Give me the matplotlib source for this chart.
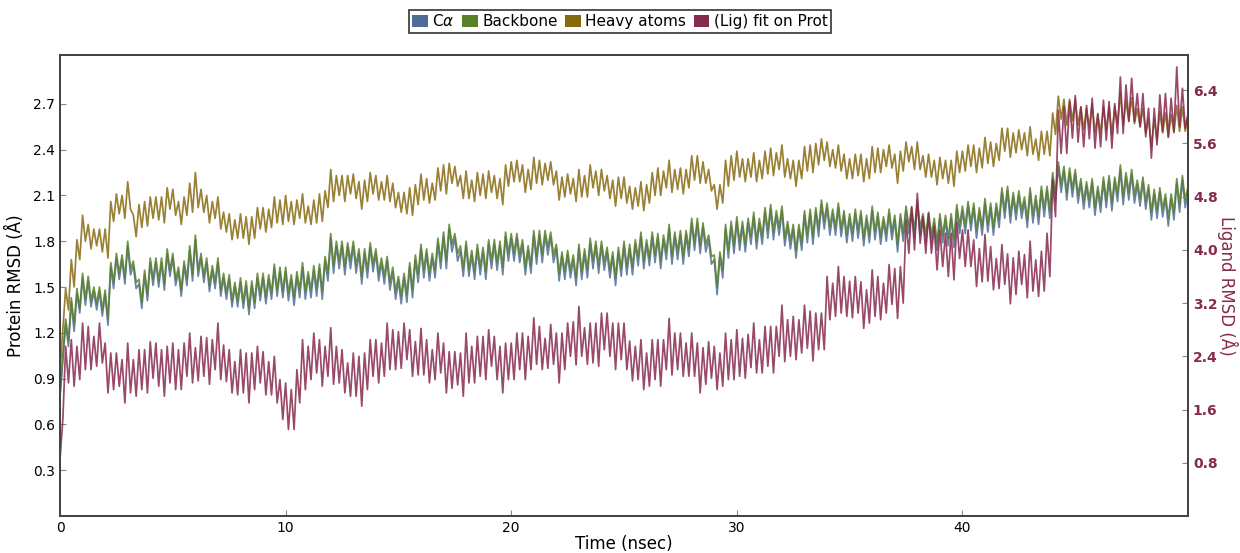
import numpy as np
import matplotlib
matplotlib.use("Agg")
import matplotlib.pyplot as plt
from matplotlib.patches import Patch

# --- values, one sample every 0.125 ns (0..50 ns) ---
time_ns = np.arange(401) * 0.125

ca_rmsd = [
    # 0-10 ns
    0.78, 1.02, 1.26, 1.11, 1.40, 1.21, 1.46, 1.33, 1.56, 1.38, 1.54, 1.37, 1.47, 1.35, 1.47, 1.31, 1.45, 1.25, 1.63, 1.49,
    1.69, 1.55, 1.68, 1.52, 1.77, 1.58, 1.64, 1.49, 1.52, 1.36, 1.58, 1.41, 1.66, 1.51, 1.66, 1.50, 1.66, 1.48, 1.72, 1.57,
    1.69, 1.51, 1.60, 1.44, 1.64, 1.51, 1.74, 1.54, 1.81, 1.57, 1.69, 1.53, 1.66, 1.47, 1.61, 1.49, 1.66, 1.44, 1.56, 1.42,
    1.55, 1.37, 1.50, 1.37, 1.53, 1.36, 1.51, 1.32, 1.51, 1.36, 1.56, 1.41, 1.56, 1.39, 1.55, 1.42, 1.62, 1.44, 1.60, 1.43,
    # 10-20 ns
    1.60, 1.41, 1.55, 1.38, 1.57, 1.43, 1.63, 1.42, 1.57, 1.43, 1.61, 1.44, 1.62, 1.42, 1.67, 1.54, 1.82, 1.59, 1.77, 1.62,
    1.77, 1.58, 1.76, 1.62, 1.77, 1.59, 1.72, 1.52, 1.72, 1.56, 1.76, 1.60, 1.72, 1.54, 1.66, 1.52, 1.67, 1.48, 1.60, 1.42,
    1.54, 1.39, 1.56, 1.40, 1.63, 1.43, 1.68, 1.53, 1.75, 1.56, 1.72, 1.54, 1.69, 1.56, 1.79, 1.62, 1.83, 1.62, 1.88, 1.73,
    1.82, 1.67, 1.74, 1.57, 1.77, 1.57, 1.71, 1.55, 1.75, 1.58, 1.73, 1.55, 1.78, 1.62, 1.78, 1.61, 1.77, 1.58, 1.83, 1.67,
    # 20-30 ns
    1.82, 1.67, 1.82, 1.66, 1.78, 1.58, 1.74, 1.59, 1.84, 1.65, 1.84, 1.66, 1.84, 1.71, 1.83, 1.66, 1.75, 1.54, 1.70, 1.55,
    1.71, 1.56, 1.68, 1.51, 1.75, 1.55, 1.72, 1.56, 1.79, 1.62, 1.77, 1.59, 1.77, 1.61, 1.73, 1.56, 1.70, 1.51, 1.73, 1.57,
    1.77, 1.58, 1.75, 1.58, 1.78, 1.64, 1.83, 1.62, 1.78, 1.64, 1.83, 1.66, 1.82, 1.62, 1.81, 1.68, 1.88, 1.65, 1.83, 1.68,
    1.84, 1.65, 1.84, 1.70, 1.92, 1.74, 1.92, 1.72, 1.89, 1.73, 1.81, 1.65, 1.68, 1.45, 1.70, 1.56, 1.88, 1.69, 1.90, 1.72,
    # 30-40 ns
    1.93, 1.74, 1.90, 1.73, 1.92, 1.78, 1.96, 1.75, 1.92, 1.78, 1.99, 1.82, 2.01, 1.81, 1.97, 1.84, 2.00, 1.77, 1.90, 1.75,
    1.88, 1.69, 1.88, 1.74, 1.97, 1.79, 1.98, 1.78, 1.99, 1.83, 2.04, 1.88, 2.02, 1.84, 1.98, 1.84, 2.02, 1.83, 1.97, 1.79,
    1.95, 1.80, 1.98, 1.82, 1.97, 1.77, 1.94, 1.79, 2.00, 1.81, 1.96, 1.78, 1.93, 1.80, 1.98, 1.81, 1.94, 1.73, 1.95, 1.80,
    2.00, 1.85, 1.99, 1.82, 2.04, 1.84, 1.95, 1.79, 1.96, 1.79, 1.92, 1.74, 1.95, 1.79, 1.94, 1.77, 1.95, 1.76, 2.01, 1.85,
    # 40-50 ns
    2.00, 1.85, 2.03, 1.87, 2.02, 1.82, 1.99, 1.84, 2.05, 1.86, 2.02, 1.84, 2.02, 1.89, 2.12, 1.95, 2.13, 1.92, 2.09, 1.94,
    2.10, 1.95, 2.06, 1.89, 2.12, 1.92, 2.07, 1.91, 2.13, 1.96, 2.13, 1.95, 2.22, 2.06, 2.29, 2.12, 2.26, 2.07, 2.25, 2.09,
    2.24, 2.05, 2.18, 2.01, 2.16, 2.02, 2.18, 1.97, 2.13, 1.99, 2.19, 2.02, 2.20, 2.00, 2.19, 2.06, 2.27, 2.04, 2.22, 2.07,
    2.24, 2.05, 2.17, 2.03, 2.19, 2.01, 2.14, 1.94, 2.11, 1.95, 2.12, 1.96, 2.08, 1.90, 2.08, 1.94, 2.18, 1.99, 2.20, 2.02,
    2.13,
]

backbone_rmsd = [
    # 0-10 ns
    0.80, 1.05, 1.29, 1.15, 1.43, 1.25, 1.49, 1.36, 1.59, 1.42, 1.57, 1.41, 1.50, 1.39, 1.50, 1.35, 1.48, 1.29, 1.66, 1.53,
    1.72, 1.59, 1.71, 1.56, 1.80, 1.62, 1.67, 1.53, 1.55, 1.40, 1.61, 1.45, 1.69, 1.55, 1.69, 1.54, 1.69, 1.52, 1.75, 1.61,
    1.72, 1.55, 1.63, 1.48, 1.67, 1.55, 1.77, 1.58, 1.84, 1.61, 1.72, 1.57, 1.69, 1.51, 1.64, 1.53, 1.69, 1.48, 1.59, 1.46,
    1.58, 1.41, 1.53, 1.41, 1.56, 1.40, 1.54, 1.36, 1.54, 1.40, 1.59, 1.45, 1.59, 1.43, 1.58, 1.46, 1.65, 1.48, 1.63, 1.47,
    # 10-20 ns
    1.63, 1.46, 1.58, 1.43, 1.60, 1.48, 1.66, 1.47, 1.60, 1.48, 1.64, 1.49, 1.65, 1.47, 1.70, 1.59, 1.85, 1.64, 1.80, 1.67,
    1.80, 1.63, 1.79, 1.67, 1.80, 1.64, 1.75, 1.57, 1.75, 1.61, 1.79, 1.65, 1.75, 1.59, 1.69, 1.57, 1.70, 1.53, 1.63, 1.47,
    1.57, 1.44, 1.59, 1.45, 1.66, 1.48, 1.71, 1.58, 1.78, 1.61, 1.75, 1.59, 1.72, 1.61, 1.82, 1.67, 1.86, 1.67, 1.91, 1.78,
    1.85, 1.72, 1.77, 1.62, 1.80, 1.62, 1.74, 1.60, 1.78, 1.63, 1.76, 1.60, 1.81, 1.67, 1.81, 1.66, 1.80, 1.63, 1.86, 1.72,
    # 20-30 ns
    1.85, 1.72, 1.85, 1.71, 1.81, 1.63, 1.77, 1.64, 1.87, 1.70, 1.87, 1.71, 1.87, 1.76, 1.86, 1.71, 1.78, 1.59, 1.73, 1.60,
    1.74, 1.61, 1.71, 1.56, 1.78, 1.60, 1.75, 1.61, 1.82, 1.67, 1.80, 1.64, 1.80, 1.66, 1.76, 1.61, 1.73, 1.56, 1.76, 1.62,
    1.80, 1.63, 1.78, 1.63, 1.81, 1.69, 1.86, 1.67, 1.81, 1.69, 1.86, 1.71, 1.85, 1.67, 1.84, 1.73, 1.91, 1.70, 1.86, 1.73,
    1.87, 1.70, 1.87, 1.75, 1.95, 1.79, 1.95, 1.77, 1.92, 1.78, 1.84, 1.70, 1.71, 1.50, 1.73, 1.61, 1.91, 1.74, 1.93, 1.77,
    # 30-40 ns
    1.96, 1.79, 1.93, 1.78, 1.95, 1.83, 1.99, 1.80, 1.95, 1.83, 2.02, 1.87, 2.04, 1.86, 2.00, 1.89, 2.03, 1.82, 1.93, 1.80,
    1.91, 1.74, 1.91, 1.79, 2.00, 1.84, 2.01, 1.83, 2.02, 1.88, 2.07, 1.93, 2.05, 1.89, 2.01, 1.89, 2.05, 1.88, 2.00, 1.84,
    1.98, 1.85, 2.01, 1.87, 2.00, 1.82, 1.97, 1.84, 2.03, 1.86, 1.99, 1.83, 1.96, 1.85, 2.01, 1.86, 1.97, 1.78, 1.98, 1.85,
    2.03, 1.90, 2.02, 1.87, 2.07, 1.89, 1.98, 1.84, 1.99, 1.84, 1.95, 1.79, 1.98, 1.84, 1.97, 1.82, 1.98, 1.81, 2.04, 1.90,
    # 40-50 ns
    2.03, 1.90, 2.06, 1.92, 2.05, 1.87, 2.02, 1.89, 2.08, 1.91, 2.05, 1.89, 2.05, 1.94, 2.15, 2.00, 2.16, 1.97, 2.12, 1.99,
    2.13, 2.00, 2.09, 1.94, 2.15, 1.97, 2.10, 1.96, 2.16, 2.01, 2.16, 2.00, 2.25, 2.11, 2.32, 2.17, 2.29, 2.12, 2.28, 2.14,
    2.27, 2.10, 2.21, 2.06, 2.19, 2.07, 2.21, 2.02, 2.16, 2.04, 2.22, 2.07, 2.23, 2.05, 2.22, 2.11, 2.30, 2.09, 2.25, 2.12,
    2.27, 2.10, 2.20, 2.08, 2.22, 2.06, 2.17, 1.99, 2.14, 2.00, 2.15, 2.01, 2.11, 1.95, 2.11, 1.99, 2.21, 2.04, 2.23, 2.07,
    2.16,
]

heavy_rmsd = [
    # 0-10 ns
    0.95, 1.22, 1.49, 1.35, 1.68, 1.50, 1.81, 1.68, 1.97, 1.80, 1.91, 1.75, 1.88, 1.77, 1.88, 1.73, 1.88, 1.69, 2.06, 1.93,
    2.11, 1.98, 2.10, 1.95, 2.19, 2.01, 1.97, 1.83, 2.04, 1.89, 2.06, 1.90, 2.09, 1.95, 2.09, 1.94, 2.09, 1.92, 2.15, 2.01,
    2.14, 1.97, 2.06, 1.91, 2.09, 1.97, 2.18, 1.99, 2.25, 2.02, 2.14, 1.99, 2.10, 1.92, 2.06, 1.95, 2.09, 1.88, 1.99, 1.86,
    1.98, 1.81, 1.94, 1.82, 1.98, 1.82, 1.96, 1.78, 1.96, 1.82, 2.02, 1.88, 2.02, 1.86, 2.01, 1.89, 2.09, 1.92, 2.07, 1.91,
    # 10-20 ns
    2.10, 1.93, 2.06, 1.91, 2.07, 1.95, 2.11, 1.92, 2.03, 1.91, 2.07, 1.92, 2.11, 1.93, 2.13, 2.02, 2.27, 2.06, 2.23, 2.10,
    2.23, 2.06, 2.23, 2.11, 2.24, 2.08, 2.19, 2.01, 2.20, 2.06, 2.25, 2.11, 2.23, 2.07, 2.19, 2.07, 2.23, 2.06, 2.18, 2.02,
    2.12, 1.99, 2.12, 1.98, 2.15, 1.97, 2.17, 2.04, 2.24, 2.07, 2.21, 2.05, 2.18, 2.07, 2.28, 2.13, 2.30, 2.11, 2.31, 2.18,
    2.29, 2.16, 2.23, 2.08, 2.26, 2.08, 2.20, 2.06, 2.25, 2.10, 2.24, 2.08, 2.26, 2.12, 2.23, 2.08, 2.21, 2.04, 2.30, 2.16,
    # 20-30 ns
    2.32, 2.19, 2.33, 2.19, 2.30, 2.12, 2.27, 2.14, 2.35, 2.18, 2.33, 2.17, 2.31, 2.20, 2.32, 2.17, 2.26, 2.07, 2.22, 2.09,
    2.24, 2.11, 2.21, 2.06, 2.27, 2.09, 2.23, 2.09, 2.30, 2.15, 2.26, 2.10, 2.27, 2.13, 2.23, 2.08, 2.20, 2.03, 2.22, 2.08,
    2.22, 2.05, 2.16, 2.01, 2.15, 2.03, 2.19, 2.00, 2.17, 2.05, 2.25, 2.10, 2.28, 2.10, 2.26, 2.15, 2.33, 2.12, 2.27, 2.14,
    2.28, 2.11, 2.27, 2.15, 2.36, 2.20, 2.36, 2.18, 2.32, 2.18, 2.27, 2.13, 2.17, 2.01, 2.17, 2.05, 2.33, 2.16, 2.36, 2.20,
    # 30-40 ns
    2.39, 2.22, 2.34, 2.19, 2.34, 2.22, 2.38, 2.19, 2.33, 2.21, 2.39, 2.24, 2.41, 2.23, 2.38, 2.27, 2.43, 2.22, 2.34, 2.21,
    2.33, 2.16, 2.33, 2.21, 2.42, 2.26, 2.43, 2.25, 2.44, 2.30, 2.47, 2.33, 2.45, 2.29, 2.40, 2.28, 2.43, 2.26, 2.37, 2.21,
    2.34, 2.21, 2.37, 2.23, 2.37, 2.19, 2.34, 2.21, 2.42, 2.25, 2.41, 2.25, 2.40, 2.29, 2.43, 2.28, 2.37, 2.18, 2.39, 2.26,
    2.45, 2.32, 2.42, 2.27, 2.45, 2.27, 2.36, 2.22, 2.37, 2.22, 2.33, 2.17, 2.35, 2.21, 2.33, 2.18, 2.33, 2.16, 2.39, 2.25,
    # 40-50 ns
    2.39, 2.26, 2.43, 2.29, 2.43, 2.25, 2.41, 2.28, 2.48, 2.31, 2.45, 2.29, 2.44, 2.33, 2.54, 2.39, 2.54, 2.35, 2.51, 2.38,
    2.53, 2.40, 2.51, 2.36, 2.55, 2.37, 2.47, 2.33, 2.52, 2.37, 2.52, 2.36, 2.64, 2.50, 2.75, 2.60, 2.73, 2.56, 2.73, 2.59,
    2.73, 2.56, 2.68, 2.53, 2.67, 2.55, 2.70, 2.51, 2.63, 2.51, 2.68, 2.53, 2.68, 2.50, 2.68, 2.57, 2.77, 2.56, 2.72, 2.59,
    2.74, 2.57, 2.67, 2.55, 2.67, 2.51, 2.60, 2.42, 2.60, 2.46, 2.65, 2.51, 2.64, 2.48, 2.63, 2.51, 2.69, 2.52, 2.68, 2.52,
    2.62,
]

lig_rmsd = [
    # 0-10 ns
    0.85, 1.45, 2.55, 2.00, 2.65, 1.95, 2.55, 2.05, 2.90, 2.20, 2.85, 2.20, 2.70, 2.25, 2.90, 2.30, 2.60, 1.85, 2.45, 1.90,
    2.45, 1.95, 2.35, 1.70, 2.60, 1.85, 2.35, 1.80, 2.50, 1.90, 2.50, 1.85, 2.62, 2.07, 2.60, 1.95, 2.50, 1.80, 2.55, 2.00,
    2.60, 1.90, 2.50, 1.90, 2.60, 2.10, 2.75, 2.00, 2.53, 2.03, 2.70, 2.10, 2.68, 1.98, 2.65, 2.20, 2.90, 2.05, 2.57, 2.02,
    2.50, 1.85, 2.32, 1.82, 2.50, 1.85, 2.45, 1.70, 2.45, 1.90, 2.55, 2.00, 2.47, 1.82, 2.32, 1.82, 2.40, 1.70, 2.05, 1.45,
    # 10-20 ns
    2.00, 1.30, 1.90, 1.30, 2.20, 1.70, 2.65, 1.90, 2.55, 2.05, 2.75, 2.15, 2.65, 1.95, 2.55, 2.10, 2.83, 1.98, 2.55, 2.00,
    2.50, 1.85, 2.30, 1.80, 2.45, 1.80, 2.40, 1.65, 2.45, 1.90, 2.65, 2.10, 2.65, 2.00, 2.60, 2.10, 2.90, 2.20, 2.80, 2.20,
    2.77, 2.22, 2.90, 2.35, 2.80, 2.10, 2.62, 2.12, 2.82, 2.12, 2.65, 2.00, 2.50, 2.05, 2.75, 2.15, 2.60, 1.85, 2.47, 1.92,
    2.47, 1.97, 2.45, 1.80, 2.75, 2.00, 2.55, 2.00, 2.70, 2.10, 2.70, 2.05, 2.80, 2.25, 2.70, 2.05, 2.55, 1.85, 2.60, 2.05,
    # 20-30 ns
    2.60, 2.05, 2.75, 2.20, 2.75, 2.05, 2.70, 2.20, 2.98, 2.28, 2.85, 2.20, 2.67, 2.22, 2.88, 2.28, 2.75, 2.00, 2.75, 2.20,
    2.90, 2.40, 2.92, 2.27, 3.15, 2.40, 2.83, 2.28, 2.90, 2.30, 2.90, 2.25, 3.05, 2.50, 3.05, 2.40, 2.90, 2.20, 2.90, 2.35,
    2.90, 2.20, 2.63, 2.03, 2.55, 2.05, 2.65, 1.90, 2.45, 1.95, 2.65, 2.05, 2.65, 1.95, 2.65, 2.20, 2.97, 2.12, 2.75, 2.20,
    2.75, 2.10, 2.60, 2.10, 2.75, 2.10, 2.60, 1.85, 2.53, 1.98, 2.62, 2.07, 2.55, 1.90, 2.45, 1.95, 2.75, 2.05, 2.65, 2.05,
    # 30-40 ns
    2.80, 2.10, 2.67, 2.07, 2.73, 2.23, 2.90, 2.15, 2.65, 2.15, 2.85, 2.25, 2.85, 2.15, 2.85, 2.40, 3.17, 2.32, 2.95, 2.40,
    3.00, 2.35, 2.95, 2.45, 3.17, 2.52, 3.08, 2.33, 3.05, 2.50, 3.05, 2.50, 3.60, 2.95, 3.50, 3.00, 3.75, 3.05, 3.60, 3.00,
    3.53, 2.98, 3.60, 3.05, 3.52, 2.82, 3.40, 2.90, 3.70, 3.00, 3.60, 2.95, 3.50, 3.05, 3.78, 3.18, 3.72, 2.97, 3.75, 3.20,
    4.45, 3.95, 4.65, 4.00, 4.85, 4.10, 4.50, 3.95, 4.55, 3.95, 4.35, 3.70, 4.30, 3.75, 4.25, 3.60, 4.25, 3.55, 4.42, 3.87,
    # 40-50 ns
    4.30, 3.75, 4.30, 3.75, 4.15, 3.45, 4.02, 3.52, 4.23, 3.53, 4.05, 3.40, 3.87, 3.42, 4.08, 3.48, 3.94, 3.19, 3.88, 3.33,
    3.98, 3.48, 3.93, 3.28, 4.13, 3.38, 3.85, 3.30, 3.98, 3.38, 4.25, 3.60, 5.05, 4.50, 6.10, 5.45, 6.15, 5.45, 6.23, 5.68,
    6.32, 5.62, 6.15, 5.55, 6.17, 5.67, 6.28, 5.53, 6.05, 5.55, 6.25, 5.65, 6.23, 5.53, 6.20, 5.75, 6.60, 5.75, 6.48, 5.93,
    6.58, 5.93, 6.35, 5.85, 6.35, 5.70, 6.13, 5.38, 6.13, 5.58, 6.33, 5.78, 6.35, 5.70, 6.28, 5.78, 6.75, 5.85, 6.43, 5.83,
    6.05,
]

labels = [r"C$\alpha$", "Backbone", "Heavy atoms", "(Lig) fit on Prot"]
colors = ["#4e6d96", "#5a7f2b", "#876a10", "#872a4f"]
left_ticks = [0.3, 0.6, 0.9, 1.2, 1.5, 1.8, 2.1, 2.4, 2.7]
right_ticks = [0.8, 1.6, 2.4, 3.2, 4.0, 4.8, 5.6, 6.4]

fig = plt.figure(figsize=(12.4, 5.53), dpi=100)
ax = fig.add_axes([0.0484, 0.067, 0.9097, 0.8335])
ax2 = ax.twinx()

ax.plot(time_ns, ca_rmsd, color=colors[0], lw=1.25, alpha=0.85)
ax.plot(time_ns, backbone_rmsd, color=colors[1], lw=1.25, alpha=0.85)
ax.plot(time_ns, heavy_rmsd, color=colors[2], lw=1.25, alpha=0.85)
ax2.plot(time_ns, lig_rmsd, color=colors[3], lw=1.25, alpha=0.85)

ax.set_xlim(0, 50)
ax.set_ylim(0, 3.02)
ax2.set_ylim(0, 6.93)
ax.set_xticks([0, 10, 20, 30, 40])
ax.set_yticks(left_ticks)
ax2.set_yticks(right_ticks)

ax.set_xlabel("Time (nsec)", fontsize=12, labelpad=0)
ax.set_ylabel("Protein RMSD (Å)", fontsize=12, labelpad=6)
ax2.set_ylabel("Ligand RMSD (Å)", fontsize=12, color=colors[3], rotation=270, labelpad=15)

for a in (ax, ax2):
    a.tick_params(direction="in", length=4, width=0.8, color="#888888", labelsize=10)
    for s in a.spines.values():
        s.set_color("#444444")
        s.set_linewidth(1.4)
ax2.tick_params(axis="y", labelcolor=colors[3])
for t in ax2.get_yticklabels():
    t.set_fontweight("bold")

handles = [Patch(facecolor=c, edgecolor="none") for c in colors]
leg = fig.legend(handles, labels, loc="upper center", bbox_to_anchor=(0.5, 0.995), ncol=4,
                 fontsize=11, handlelength=1.0, handleheight=0.8, handletextpad=0.3,
                 columnspacing=0.5, borderpad=0.2, fancybox=False, framealpha=1)
leg.get_frame().set_edgecolor("#333333")
leg.get_frame().set_linewidth(1.2)

fig.savefig("out.png", dpi=100)
